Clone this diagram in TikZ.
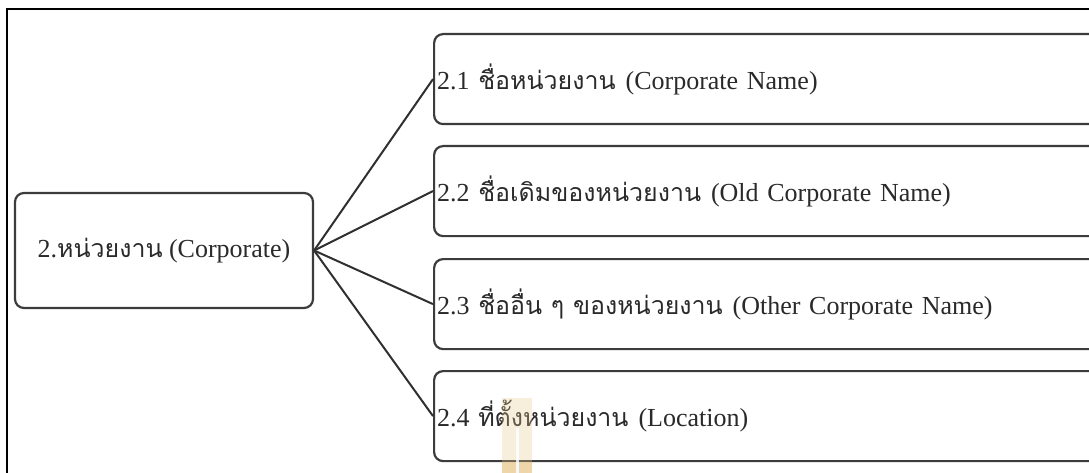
\documentclass[tikz,border=0pt]{standalone}
\usepackage{fontspec}
\setmainfont{Liberation Serif}
\newfontfamily\thai[Script=Thai,Scale=0.96]{Loma}
\definecolor{boxline}{HTML}{3C3C3C}
\definecolor{linkcol}{HTML}{303030}
\definecolor{textcol}{HTML}{2A2A2A}
\definecolor{stripe}{HTML}{E9C88E}
\newcommand{\thgap}{\hspace{10pt}}
\begin{document}
\begin{tikzpicture}[x=1pt,y=-1pt,
  box/.style={draw=boxline, line width=2.2pt, rounded corners=9pt, fill=white},
  subbox/.style={box, anchor=north west, minimum height=90pt,
    text width=674pt, inner xsep=3pt, inner ysep=0pt, align=left},
  link/.style={draw=linkcol, line width=2pt},
  lbl/.style={font=\fontsize{26}{30}\selectfont, text=textcol}]
\clip (0,0) rectangle (1089,473);
\fill[white] (0,0) rectangle (1089,473);
% outer frame
\draw[line width=2pt] (7,480) -- (7,9) -- (1100,9);

% parent
\node[box, lbl, minimum width=298pt, minimum height=115pt, inner sep=0pt]
  (corp) at (164,250.5) {2.{\thai หน่วยงาน} (Corporate)};

% children
\node[subbox, lbl] (c1) at (433,33)  {2.1 {\thai ชื่อหน่วยงาน}\thgap(Corporate Name)};
\node[subbox, lbl] (c2) at (433,145) {2.2 {\thai ชื่อเดิมของหน่วยงาน}\thgap(Old Corporate Name)};
\node[subbox, lbl] (c3) at (433,258) {2.3 {\thai ชื่ออื่น ๆ ของหน่วยงาน}\thgap(Other Corporate Name)};
\node[subbox, lbl] (c4) at (433,370) {2.4 {\thai ที่ตั้งหน่วยงาน}\thgap(Location)};

% connectors
\foreach \c in {c1,c2,c3,c4}
  \draw[link] (corp.east) -- (\c.west);

% pale stripe at the lower edge
\fill[stripe, opacity=0.3] (502,398) rectangle (532,462);
\fill[stripe, opacity=0.75] (502,462) rectangle (532,473);
\fill[white, opacity=0.8] (516,428) rectangle (519,473);
\end{tikzpicture}
\end{document}
